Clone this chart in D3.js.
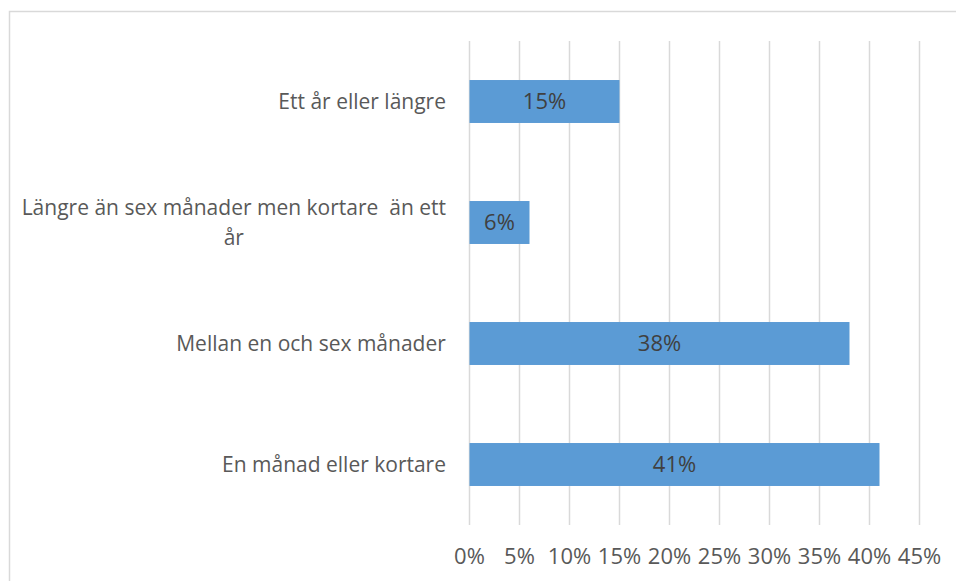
<!DOCTYPE html>
<html>
<head>
<meta charset="utf-8">
<script src="https://cdn.jsdelivr.net/npm/d3@7"></script>
<style>
  html, body { margin: 0; padding: 0; background: #fff; }
  svg { display: block; font-family: "Open Sans", sans-serif; }
  text { white-space: pre; }
</style>
</head>
<body>
<svg id="chart" width="956" height="581"></svg>
<script>
// Categories, top to bottom (each entry holds the label's lines)
const categories = [
  ["Ett år eller längre"],
  ["Längre än sex månader men kortare  än ett", "år"],
  ["Mellan en och sex månader"],
  ["En månad eller kortare"]
];
const values = [0.15, 0.06, 0.38, 0.41];
const tickValues = [0, 0.05, 0.10, 0.15, 0.20, 0.25, 0.30, 0.35, 0.40, 0.45];

const svg = d3.select("#chart");

// Outer frame
svg.append("rect")
  .attr("x", 9.5).attr("y", 11.5)
  .attr("width", 960).attr("height", 600)
  .attr("fill", "none").attr("stroke", "#d9d9d9").attr("stroke-width", 1.5);

const x = d3.scaleLinear().domain([0, 0.45]).range([469.5, 919.5]);
const y = d3.scaleBand().domain(d3.range(categories.length)).range([41, 525])
  .paddingInner(0.645).paddingOuter(0.3225);

// Vertical gridlines
svg.append("g").selectAll("line").data(tickValues).join("line")
  .attr("x1", d => x(d)).attr("x2", d => x(d))
  .attr("y1", 41).attr("y2", 525)
  .attr("stroke", "#d9d9d9").attr("stroke-width", 1.5);

// Bars
svg.append("g").selectAll("rect").data(values).join("rect")
  .attr("x", x(0)).attr("y", (d, i) => y(i))
  .attr("width", d => x(d) - x(0)).attr("height", y.bandwidth())
  .attr("fill", "#5b9bd5");

// Value labels
svg.append("g").selectAll("text").data(values).join("text")
  .attr("x", d => (x(0) + x(d)) / 2)
  .attr("y", (d, i) => y(i) + y.bandwidth() / 2)
  .attr("dy", "0.35em").attr("text-anchor", "middle")
  .attr("font-size", 22).attr("fill", "#404040")
  .text(d => d3.format(".0%")(d));

// Category labels: lines centred on each other, block right-aligned
const cat = svg.append("g").selectAll("text").data(categories).join("text")
  .attr("font-size", 21).attr("fill", "#595959").attr("text-anchor", "middle")
  .attr("transform", (d, i) => `translate(0, ${y(i) + y.bandwidth() / 2})`);
cat.each(function (lines) {
  const t = d3.select(this);
  const lh = 30;
  lines.forEach((ln, k) => {
    t.append("tspan").text(ln)
      .attr("x", 0)
      .attr("y", (k - (lines.length - 1) / 2) * lh)
      .attr("dy", "0.35em");
  });
  const bb = this.getBBox();
  t.selectAll("tspan").attr("x", 446 - bb.width / 2);
});

// X-axis tick labels
svg.append("g").selectAll("text").data(tickValues).join("text")
  .attr("x", d => x(d)).attr("y", 556)
  .attr("dy", "0.35em").attr("text-anchor", "middle")
  .attr("font-size", 22).attr("fill", "#595959")
  .text(d => d3.format(".0%")(d));
</script>
</body>
</html>
